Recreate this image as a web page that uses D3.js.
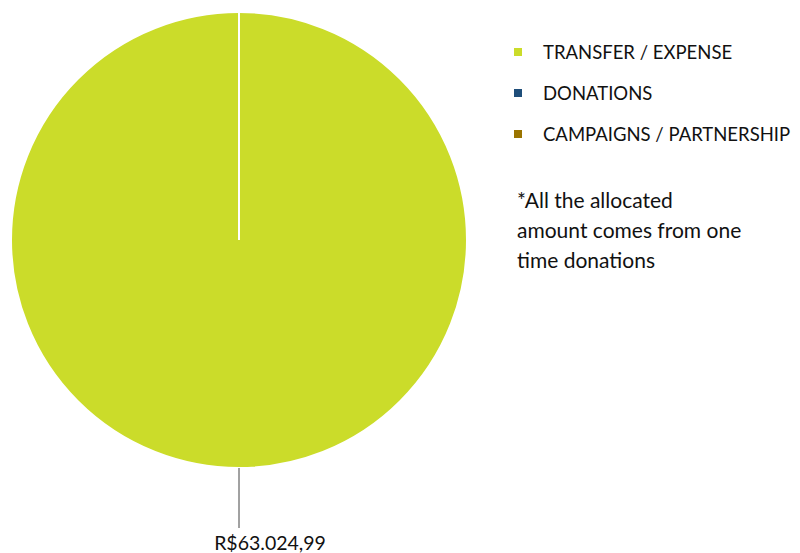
<!DOCTYPE html>
<html>
<head>
<meta charset="utf-8">
<script src="https://cdn.jsdelivr.net/npm/d3@7"></script>
<style>
  body { margin: 0; background: #fff; }
  text { font-family: Lato, "Open Sans", sans-serif; fill: #111; }
</style>
</head>
<body>
<div id="chart"></div>
<script>
// Chart data
const categories = ["TRANSFER / EXPENSE", "DONATIONS", "CAMPAIGNS / PARTNERSHIP"];
const values = [63024.99, 0, 0];
const valueLabels = ["R$63.024,99", "", ""];
const colors = ["#cbdc2a", "#1f4e7a", "#9a7400"];
const noteLines = ["*All the allocated", "amount comes from one", "time donations"];

const width = 800, height = 553;
const cx = 239, cy = 240, radius = 228;

const svg = d3.select("#chart")
    .append("svg")
    .attr("width", width)
    .attr("height", height);

const color = d3.scaleOrdinal().domain(categories).range(colors);

const pie = d3.pie().sort(null).value(d => d.value);
const arc = d3.arc().innerRadius(0).outerRadius(radius);

const data = categories.map((c, i) => ({ name: c, value: values[i], label: valueLabels[i] }));
const arcs = pie(data);

const g = svg.append("g").attr("transform", `translate(${cx},${cy})`);

// Slices, white border between them
g.selectAll("path")
    .data(arcs)
    .enter()
    .append("path")
    .attr("d", arc)
    .attr("fill", d => color(d.data.name))
    .attr("stroke", "#fff")
    .attr("stroke-width", 2);

// Leader line and value label for non-empty slices
const labelled = arcs.filter(d => d.data.value > 0);
labelled.forEach(d => {
    const mid = (d.startAngle + d.endAngle) / 2;
    const x0 = Math.sin(mid) * radius, y0 = -Math.cos(mid) * radius;
    const y1 = y0 + 60;
    g.append("line")
        .attr("x1", x0).attr("y1", y0)
        .attr("x2", x0).attr("y2", y1)
        .attr("stroke", "#444")
        .attr("stroke-width", 1);
    g.append("text")
        .attr("x", x0 + 31)
        .attr("y", y1 + 22)
        .attr("text-anchor", "middle")
        .style("font-size", "19.5px")
        .text(d.data.label);
});

// Legend
const legend = svg.append("g").attr("transform", "translate(514,52)");
const rows = legend.selectAll("g")
    .data(categories)
    .enter()
    .append("g")
    .attr("transform", (d, i) => `translate(0,${i * 41})`);
rows.append("rect")
    .attr("x", 0).attr("y", -4)
    .attr("width", 8).attr("height", 8)
    .attr("fill", d => color(d));
rows.append("text")
    .attr("x", 29)
    .attr("y", 6.5)
    .style("font-size", "18.5px")
    .text(d => d);

// Footnote
svg.append("text")
    .attr("x", 517)
    .attr("y", 208)
    .style("font-size", "21px")
    .selectAll("tspan")
    .data(noteLines)
    .enter()
    .append("tspan")
    .attr("x", 517)
    .attr("dy", (d, i) => i === 0 ? 0 : 30)
    .text(d => d);
</script>
</body>
</html>
